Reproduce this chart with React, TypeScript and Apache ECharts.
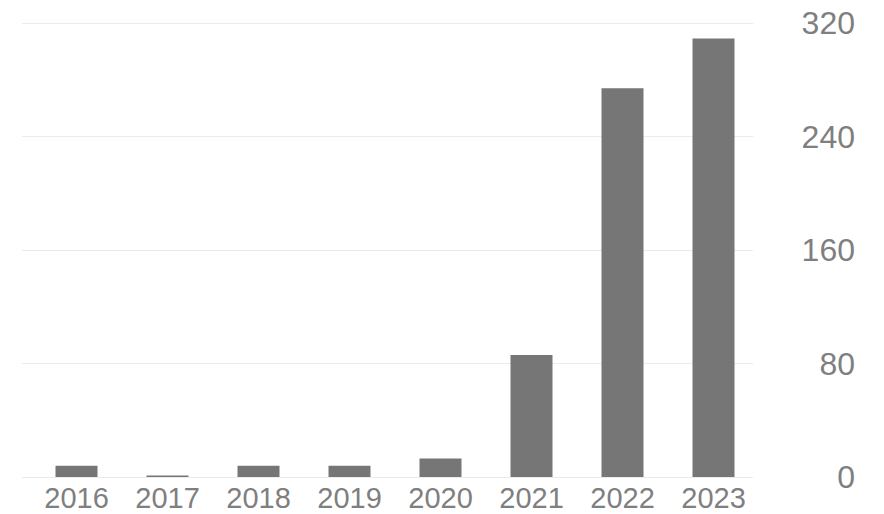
import React, { useEffect, useRef } from "react";
import * as echarts from "echarts";

const categories = ["2016", "2017", "2018", "2019", "2020", "2021", "2022", "2023"];
const values = [8, 1, 8, 8, 13, 86, 274, 309];
const yTicks = [0, 80, 160, 240, 320];

export default function App() {
  const ref = useRef<HTMLDivElement>(null);
  useEffect(() => {
    if (!ref.current) return;
    const chart = echarts.init(ref.current, null, { renderer: "svg" });
    const yMin = yTicks[0];
    const yMax = yTicks[yTicks.length - 1];
    const interval = yTicks[1] - yTicks[0];
    chart.setOption({
      animation: false,
      backgroundColor: "#ffffff",
      textStyle: { fontFamily: "Liberation Sans, Arial, sans-serif" },
      grid: [
        { left: 22, right: 131, top: 23, bottom: 37 },
        { left: 31, right: 125, top: 23, bottom: 37 },
      ],
      xAxis: [
        {
          type: "category",
          gridIndex: 0,
          data: categories,
          show: false,
        },
        {
          type: "category",
          gridIndex: 1,
          data: categories,
          axisLine: { show: false },
          axisTick: { show: false },
          axisLabel: {
            color: "#7f7f7f",
            fontSize: 29,
            lineHeight: 29,
            margin: 6,
            fontFamily: "Liberation Sans, Arial, sans-serif",
          },
        },
      ],
      yAxis: [
        {
          type: "value",
          gridIndex: 0,
          position: "right",
          min: yMin,
          max: yMax,
          interval,
          axisLine: { show: false },
          axisTick: { show: false },
          splitLine: { show: true, lineStyle: { color: "#ebebeb", width: 1 } },
          axisLabel: {
            color: "#7f7f7f",
            fontSize: 32,
            align: "right",
            margin: 102,
            fontFamily: "Liberation Sans, Arial, sans-serif",
          },
        },
        {
          type: "value",
          gridIndex: 1,
          min: yMin,
          max: yMax,
          interval,
          show: false,
          splitLine: { show: false },
        },
      ],
      series: [
        {
          type: "bar",
          xAxisIndex: 1,
          yAxisIndex: 1,
          data: values,
          barWidth: 42,
          itemStyle: { color: "#767676" },
        },
      ],
    });
    return () => chart.dispose();
  }, []);
  return (
    <div
      ref={ref}
      style={{ position: "absolute", left: 0, top: 0, width: 884, height: 514 }}
    />
  );
}
